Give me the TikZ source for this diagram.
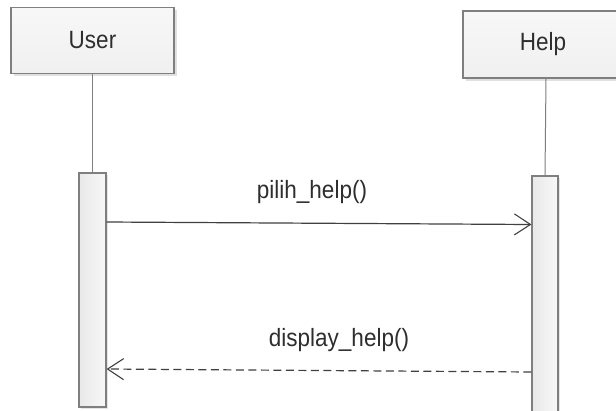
\documentclass[tikz,border=0pt]{standalone}
\usepackage{fontspec}
\setmainfont{Liberation Sans}[FakeStretch=0.9]
\usetikzlibrary{arrows.meta,shadows}
\definecolor{boxline}{HTML}{7F7F7F}
\definecolor{boxfill}{HTML}{F0F0F0}
\definecolor{msgline}{HTML}{404040}
\definecolor{txt}{HTML}{2E2E2E}
\tikzset{
  lifehead/.style={draw=boxline, line width=1.2pt, top color=white!97!black, bottom color=boxfill,
    drop shadow={shadow xshift=2.5pt, shadow yshift=-2.5pt, fill=black!12, opacity=1},
    minimum height=66pt, inner sep=0pt, font=\fontsize{25}{28}\selectfont, text=txt},
  actbar/.style={draw=boxline, line width=1.2pt, left color=boxfill!97!black, right color=white!97!black,
    drop shadow={shadow xshift=2pt, shadow yshift=-2pt, fill=black!10, opacity=1},
    inner sep=0pt},
  lifeline/.style={draw=boxline, line width=1pt},
  msg/.style={draw=msgline, line width=1.2pt, -{Straight Barb[length=16pt,width=21pt,line width=1.1pt]}},
  reply/.style={msg, dash pattern=on 8pt off 4.5pt},
  msglabel/.style={font=\fontsize{25}{28}\selectfont, text=txt, inner sep=0pt}
}
\begin{document}
\begin{tikzpicture}[x=1pt,y=-1pt]
  \clip (0,0) rectangle (616,410);
  \fill[white] (0,0) rectangle (616,410);

  % participants
  \node[lifehead, minimum width=163pt] (user) at (92.5,40.5) {User};
  \node[lifehead, minimum width=166pt, minimum height=67pt] (help) at (546,44.5) {\hspace*{-6pt}Help};

  % activation bars
  \node[actbar, minimum width=27pt, minimum height=234pt] (userbar) at (92.5,290) {};
  \node[actbar, minimum width=26pt, minimum height=250pt] (helpbar) at (545,301) {};

  % lifelines
  \draw[lifeline] (user.south) -- (userbar.north);
  \draw[lifeline] (help.south) -- (helpbar.north);

  % message levels
  \coordinate (m1a) at (0,222);
  \coordinate (m1b) at (0,224.5);
  \coordinate (m2a) at (0,372);
  \coordinate (m2b) at (0,369);

  % messages
  \draw[msg] (userbar.east |- m1a) -- (helpbar.west |- m1b);
  \node[msglabel] (l1) at (312,192) {pilih\_help()};
  \draw[reply] (helpbar.west |- m2a) -- (userbar.east |- m2b);
  \node[msglabel] (l2) at (339,340) {display\_help()};
\end{tikzpicture}
\end{document}
